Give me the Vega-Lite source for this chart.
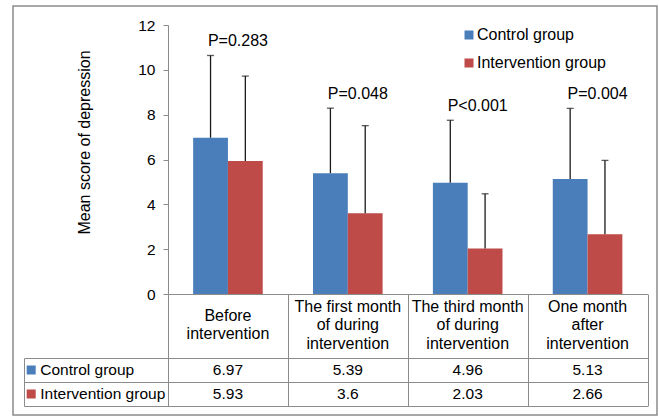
{
  "$schema": "https://vega.github.io/schema/vega-lite/v6.json",
  "width": 644,
  "height": 409,
  "autosize": {"type": "none"},
  "padding": {"left": 13, "top": 6, "right": 2, "bottom": 1},
  "background": "#ffffff",
  "config": {
    "font": "Liberation Sans",
    "view": {"stroke": "#8c8c8c", "strokeWidth": 1.5},
    "axis": {"grid": false}
  },
  "datasets": {
    "scores": [
      {"category": "Before intervention", "group": "Control group", "mean": 6.97, "upper": 10.64, "p": "P=0.283"},
      {"category": "Before intervention", "group": "Intervention group", "mean": 5.93, "upper": 9.72, "p": "P=0.283"},
      {"category": "The first month of during intervention", "group": "Control group", "mean": 5.39, "upper": 8.29, "p": "P=0.048"},
      {"category": "The first month of during intervention", "group": "Intervention group", "mean": 3.6, "upper": 7.51, "p": "P=0.048"},
      {"category": "The third month of during intervention", "group": "Control group", "mean": 4.96, "upper": 7.75, "p": "P<0.001"},
      {"category": "The third month of during intervention", "group": "Intervention group", "mean": 2.03, "upper": 4.47, "p": "P<0.001"},
      {"category": "One month after intervention", "group": "Control group", "mean": 5.13, "upper": 8.28, "p": "P=0.004"},
      {"category": "One month after intervention", "group": "Intervention group", "mean": 2.66, "upper": 5.96, "p": "P=0.004"}
    ]
  },
  "data": {"name": "scores"},
  "layer": [
    {
      "layer": [
        {
          "mark": {"type": "bar"},
          "encoding": {
            "x": {
              "field": "category", "type": "nominal", "sort": null,
              "scale": {
                "domain": ["Before intervention", "The first month of during intervention", "The third month of during intervention", "One month after intervention"],
                "range": [155, 634.5], "paddingInner": 0, "paddingOuter": 0
              },
              "axis": {
                "orient": "bottom", "offset": -121, "title": null,
                "domain": true, "domainColor": "#8c8c8c", "domainWidth": 1,
                "ticks": false, "tickSize": 0,
                "labelAngle": 0, "labelAlign": "center",
                "labelBaseline": {"condition": {"test": "datum.value == 'Before intervention'", "value": "line-top"}, "value": "middle"},
                "labelPadding": 12, "labelFontSize": 16, "labelColor": "#000000",
                "labelLineHeight": 18.7, "labelOverlap": false, "labelLimit": 0, "labelFlush": false,
                "labelExpr": "datum.value == 'Before intervention' ? ['Before', 'intervention'] : datum.value == 'The first month of during intervention' ? ['The first month', 'of during', 'intervention'] : datum.value == 'The third month of during intervention' ? ['The third month', 'of during', 'intervention'] : ['One month', 'after', 'intervention']"
              }
            },
            "xOffset": {
              "field": "group", "type": "nominal",
              "scale": {"domain": ["Control group", "Intervention group"], "paddingInner": 0, "paddingOuter": 0.7225}
            },
            "y": {
              "field": "mean", "type": "quantitative",
              "scale": {"domain": [0, 12], "range": [288, 19], "nice": false},
              "axis": {
                "orient": "left", "offset": -155, "values": [0, 2, 4, 6, 8, 10, 12],
                "domainColor": "#8c8c8c", "tickColor": "#8c8c8c", "tickSize": 5,
                "labelPadding": 8, "labelFontSize": 15.5, "labelColor": "#000000",
                "title": "Mean score of depression", "titleFontSize": 16, "titleFontWeight": "normal",
                "titleColor": "#000000", "titleX": -84, "titleY": 136, "titleAngle": -90,
                "titleAlign": "center", "titleBaseline": "middle"
              }
            },
            "color": {
              "field": "group", "type": "nominal",
              "scale": {"domain": ["Control group", "Intervention group"], "range": ["#4a7ebb", "#be4b48"]},
              "legend": {
                "title": null, "orient": "none", "legendX": 448, "legendY": 21,
                "symbolType": "square", "symbolSize": 81, "symbolStrokeWidth": 0,
                "labelFontSize": 16, "labelColor": "#000000", "labelOffset": 0,
                "rowPadding": 12, "padding": 0
              }
            }
          }
        },
        {
          "mark": {"type": "rule", "color": "#1a1a1a", "strokeWidth": 1.3},
          "encoding": {
            "x": {"field": "category", "type": "nominal"},
            "xOffset": {"field": "group", "type": "nominal"},
            "y": {"field": "mean", "type": "quantitative"},
            "y2": {"field": "upper"}
          }
        },
        {
          "mark": {"type": "tick", "orient": "horizontal", "size": 7, "thickness": 1.3, "color": "#1a1a1a"},
          "encoding": {
            "x": {"field": "category", "type": "nominal"},
            "xOffset": {"field": "group", "type": "nominal"},
            "y": {"field": "upper", "type": "quantitative"}
          }
        },
        {
          "transform": [{"aggregate": [{"op": "max", "field": "upper", "as": "top"}], "groupby": ["category", "p"]}],
          "mark": {"type": "text", "dx": 10, "dy": -14, "fontSize": 16, "color": "#000000", "baseline": "middle"},
          "encoding": {
            "x": {"field": "category", "type": "nominal"},
            "y": {"field": "top", "type": "quantitative"},
            "text": {"field": "p"}
          }
        }
      ]
    },
    {
      "mark": {"type": "text", "fontSize": 15.5, "color": "#000000", "baseline": "middle"},
      "encoding": {
        "x": {
          "field": "category", "type": "nominal", "sort": null,
          "scale": {
            "domain": ["Before intervention", "The first month of during intervention", "The third month of during intervention", "One month after intervention"],
            "range": [155, 634.5], "paddingInner": 0, "paddingOuter": 0
          },
          "axis": {
            "orient": "top", "offset": -400, "title": null, "labels": false,
            "domain": true, "domainColor": "#8c8c8c", "domainWidth": 1,
            "ticks": true, "tickBand": "extent", "tickExtra": true, "tickSize": 112, "tickColor": "#8c8c8c", "tickWidth": 1
          }
        },
        "y": {
          "field": "group", "type": "nominal",
          "scale": {"domain": ["Control group", "Intervention group"], "range": [352, 400], "paddingInner": 0, "paddingOuter": 0},
          "axis": {
            "orient": "left", "offset": -11, "title": null, "labels": false,
            "domain": true, "domainColor": "#8c8c8c", "domainWidth": 1,
            "ticks": true, "tickBand": "extent", "tickExtra": true, "tickSize": -623.5, "tickColor": "#8c8c8c", "tickWidth": 1
          }
        },
        "text": {"field": "mean", "type": "quantitative", "format": ".3~g"}
      }
    },
    {
      "transform": [{"aggregate": [{"op": "count", "as": "n"}], "groupby": ["group"]}],
      "layer": [
        {
          "mark": {"type": "point", "shape": "square", "filled": true, "size": 81, "opacity": 1, "xOffset": -64.8},
          "encoding": {
            "x": {
              "datum": "label", "type": "nominal",
              "scale": {"domain": ["label"], "range": [11, 155], "paddingInner": 0, "paddingOuter": 0},
              "axis": null
            },
            "y": {
              "field": "group", "type": "nominal",
              "scale": {"domain": ["Control group", "Intervention group"], "range": [352, 400], "paddingInner": 0, "paddingOuter": 0},
              "axis": null
            },
            "color": {
              "field": "group", "type": "nominal",
              "scale": {"domain": ["Control group", "Intervention group"], "range": ["#4a7ebb", "#be4b48"]},
              "legend": null
            }
          }
        },
        {
          "mark": {"type": "text", "align": "left", "baseline": "middle", "dx": -55.7, "fontSize": 15.5, "color": "#000000"},
          "encoding": {
            "x": {"datum": "label", "type": "nominal"},
            "y": {"field": "group", "type": "nominal"},
            "text": {"field": "group"}
          }
        }
      ]
    }
  ],
  "resolve": {"scale": {"x": "independent", "y": "independent", "color": "independent"}}
}
